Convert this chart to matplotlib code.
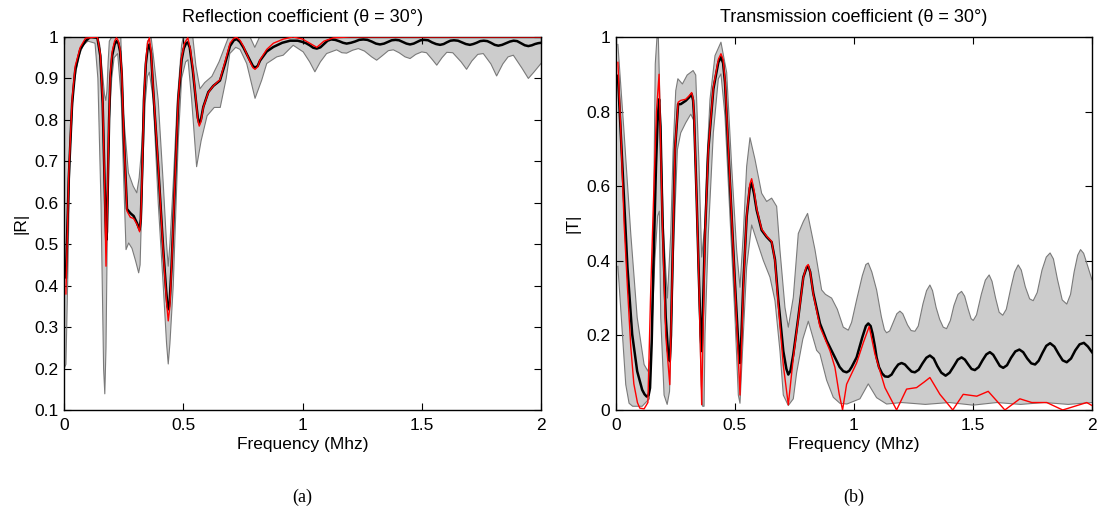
import matplotlib
matplotlib.use("Agg")
import numpy as np
from matplotlib import pyplot as plt

# ---- reflection |R| (panel a) ----
r_mean_f = [0.008, 0.02, 0.034, 0.047, 0.068, 0.09, 0.11, 0.14, 0.152, 0.162, 0.17, 0.174, 0.177, 0.18, 0.184,
            0.189, 0.194, 0.202, 0.212, 0.22, 0.228, 0.235, 0.242, 0.25, 0.264, 0.278, 0.292, 0.306, 0.317,
            0.322, 0.328, 0.335, 0.343, 0.35, 0.358, 0.365, 0.374, 0.395, 0.416, 0.428, 0.434, 0.438, 0.443,
            0.451, 0.465, 0.479, 0.493, 0.502, 0.512, 0.519, 0.527, 0.54, 0.553, 0.561, 0.567, 0.574, 0.584,
            0.605, 0.626, 0.654, 0.675, 0.696, 0.712, 0.724, 0.738, 0.752, 0.78, 0.792, 0.801, 0.812, 0.822,
            0.85, 0.878, 0.915, 0.948, 0.98, 1.0, 1.015, 1.03, 1.045, 1.06, 1.075, 1.09, 1.105, 1.12, 1.137,
            1.153, 1.17, 1.185, 1.203, 1.22, 1.238, 1.255, 1.272, 1.29, 1.308, 1.325, 1.342, 1.358, 1.374,
            1.39, 1.405, 1.42, 1.436, 1.451, 1.466, 1.48, 1.495, 1.51, 1.527, 1.543, 1.56, 1.577, 1.592,
            1.605, 1.62, 1.635, 1.652, 1.668, 1.685, 1.702, 1.716, 1.73, 1.745, 1.76, 1.775, 1.79, 1.806,
            1.821, 1.837, 1.853, 1.87, 1.885, 1.9, 1.916, 1.932, 1.947, 1.962, 1.975, 1.988, 2.0]
r_mean = [0.42, 0.66, 0.84, 0.92, 0.97, 0.99, 1.0, 0.998, 0.955, 0.84, 0.65, 0.56, 0.51, 0.53, 0.65,
          0.8, 0.9, 0.955, 0.982, 0.99, 0.985, 0.965, 0.91, 0.77, 0.585, 0.575, 0.568, 0.551, 0.535,
          0.56, 0.68, 0.847, 0.935, 0.97, 0.982, 0.96, 0.871, 0.687, 0.487, 0.39, 0.35, 0.343, 0.36,
          0.447, 0.647, 0.847, 0.944, 0.972, 0.985, 0.987, 0.975, 0.92, 0.847, 0.805, 0.791, 0.8, 0.831,
          0.867, 0.882, 0.895, 0.935, 0.978, 0.992, 0.995, 0.988, 0.975, 0.943, 0.93, 0.926, 0.93, 0.943,
          0.965, 0.976, 0.986, 0.991, 0.991, 0.988, 0.985, 0.98, 0.974, 0.972, 0.975, 0.983, 0.991, 0.994, 0.993,
          0.99, 0.986, 0.984, 0.986, 0.989, 0.993, 0.994, 0.993, 0.989, 0.984, 0.982, 0.984, 0.988, 0.992,
          0.993, 0.992, 0.988, 0.984, 0.982, 0.984, 0.988, 0.992, 0.993, 0.992, 0.987, 0.983, 0.981, 0.983,
          0.987, 0.991, 0.992, 0.991, 0.987, 0.983, 0.981, 0.983, 0.986, 0.99, 0.991, 0.99, 0.986, 0.981,
          0.979, 0.981, 0.985, 0.989, 0.991, 0.99, 0.985, 0.98, 0.978, 0.98, 0.983, 0.985, 0.986]

r_red_f = [0.008, 0.02, 0.034, 0.047, 0.068, 0.09, 0.14, 0.152, 0.162, 0.17, 0.176, 0.182, 0.187, 0.194,
           0.202, 0.212, 0.22, 0.228, 0.235, 0.242, 0.25, 0.264, 0.278, 0.292, 0.306, 0.317, 0.322, 0.328,
           0.335, 0.343, 0.35, 0.358, 0.365, 0.374, 0.395, 0.416, 0.43, 0.437, 0.444, 0.451, 0.465, 0.479,
           0.493, 0.505, 0.519, 0.53, 0.54, 0.553, 0.561, 0.567, 0.574, 0.584, 0.605, 0.626, 0.654, 0.675,
           0.696, 0.712, 0.724, 0.738, 0.752, 0.78, 0.792, 0.801, 0.812, 0.822, 0.85, 0.878, 0.92, 0.96,
           1.0, 1.03, 1.06, 1.09, 1.13, 1.2, 2.0]
r_red = [0.38, 0.67, 0.85, 0.93, 0.975, 0.997, 1.0, 0.96, 0.85, 0.65, 0.447, 0.6, 0.76, 0.91,
         0.965, 0.99, 0.998, 0.99, 0.97, 0.915, 0.77, 0.58, 0.565, 0.562, 0.548, 0.53, 0.56, 0.68,
         0.85, 0.94, 0.985, 0.998, 0.965, 0.875, 0.69, 0.48, 0.36, 0.315, 0.35, 0.445, 0.65, 0.85,
         0.95, 0.985, 0.998, 0.97, 0.925, 0.85, 0.8, 0.785, 0.795, 0.83, 0.866, 0.882, 0.897, 0.94,
         0.985, 0.997, 0.999, 0.992, 0.978, 0.94, 0.926, 0.922, 0.928, 0.945, 0.97, 0.985, 0.995, 1.0,
         0.995, 0.985, 0.975, 0.99, 0.998, 1.0, 1.0]

r_lo_f = [0.0, 0.008, 0.015, 0.025, 0.04, 0.06, 0.08, 0.1, 0.13, 0.142, 0.155, 0.166, 0.171, 0.176, 0.183,
          0.19, 0.2, 0.21, 0.225, 0.24, 0.25, 0.26, 0.271, 0.285, 0.3, 0.313, 0.319, 0.33, 0.34, 0.35, 0.358,
          0.374, 0.395, 0.416, 0.43, 0.437, 0.444, 0.458, 0.47, 0.479, 0.493, 0.51, 0.52, 0.535, 0.556, 0.575,
          0.6, 0.63, 0.655, 0.68, 0.695, 0.72, 0.738, 0.766, 0.801, 0.829, 0.85, 0.892, 0.919, 0.961, 1.003,
          1.03, 1.052, 1.075, 1.101, 1.143, 1.165, 1.185, 1.21, 1.234, 1.26, 1.29, 1.311, 1.335, 1.36, 1.381,
          1.405, 1.43, 1.451, 1.475, 1.5, 1.52, 1.545, 1.563, 1.585, 1.605, 1.63, 1.665, 1.688, 1.71, 1.735,
          1.758, 1.79, 1.814, 1.84, 1.862, 1.884, 1.92, 1.947, 1.97, 2.0]
r_lo = [0.2, 0.21, 0.4, 0.72, 0.88, 0.95, 0.98, 0.99, 0.985, 0.9, 0.6, 0.2, 0.139, 0.25, 0.6,
        0.8, 0.9, 0.95, 0.96, 0.85, 0.66, 0.487, 0.503, 0.49, 0.46, 0.431, 0.45, 0.68, 0.84, 0.905, 0.915,
        0.85, 0.6, 0.4, 0.26, 0.211, 0.26, 0.4, 0.6, 0.75, 0.9, 0.94, 0.945, 0.85, 0.687, 0.75,
        0.81, 0.83, 0.83, 0.9, 0.96, 0.975, 0.97, 0.936, 0.852, 0.896, 0.936, 0.952, 0.956, 0.98, 0.964,
        0.94, 0.916, 0.94, 0.96, 0.969, 0.962, 0.961, 0.968, 0.972, 0.966, 0.952, 0.944, 0.955, 0.967, 0.969,
        0.962, 0.952, 0.948, 0.958, 0.964, 0.962, 0.945, 0.932, 0.95, 0.963, 0.962, 0.94, 0.922, 0.942, 0.958,
        0.96, 0.935, 0.906, 0.935, 0.952, 0.956, 0.925, 0.9, 0.915, 0.936]

r_hi_f = [0.0, 0.01, 0.14, 0.15, 0.16, 0.17, 0.175, 0.18, 0.185, 0.19, 0.2, 0.238, 0.249, 0.27, 0.29,
          0.305, 0.315, 0.326, 0.34, 0.35, 0.365, 0.374, 0.395, 0.416, 0.43, 0.437, 0.444, 0.458, 0.475,
          0.493, 0.5, 0.54, 0.553, 0.57, 0.59, 0.62, 0.65, 0.67, 0.69, 0.78, 0.8, 0.82, 2.0]
r_hi = [0.99, 1.0, 1.0, 0.98, 0.92, 0.86, 0.847, 0.87, 0.94, 0.99, 1.0, 1.0, 0.816, 0.672, 0.64,
        0.624, 0.66, 0.736, 0.896, 0.99, 1.0, 0.958, 0.847, 0.647, 0.5, 0.447, 0.5, 0.647, 0.847,
        0.98, 1.0, 1.0, 0.93, 0.875, 0.89, 0.905, 0.94, 0.97, 1.0, 1.0, 0.975, 1.0, 1.0]

# ---- transmission |T| (panel b) ----
t_mean_f = [0.008, 0.027, 0.048, 0.068, 0.089, 0.11, 0.12, 0.129, 0.137, 0.143, 0.15, 0.157, 0.168, 0.175,
            0.181, 0.187, 0.195, 0.209, 0.218, 0.226, 0.231, 0.237, 0.248, 0.261, 0.272, 0.293, 0.307, 0.318,
            0.324, 0.328, 0.339, 0.349, 0.356, 0.36, 0.365, 0.374, 0.388, 0.409, 0.43, 0.441, 0.45, 0.458,
            0.479, 0.5, 0.514, 0.521, 0.527, 0.535, 0.549, 0.562, 0.57, 0.58, 0.591, 0.612, 0.633, 0.654, 0.668,
            0.682, 0.703, 0.716, 0.724, 0.733, 0.745, 0.766, 0.787, 0.8, 0.808, 0.816, 0.829, 0.857, 0.885,
            0.913, 0.94, 0.955, 0.969, 0.98, 0.99, 1.011, 1.035, 1.05, 1.06, 1.07, 1.078, 1.088, 1.095, 1.105,
            1.118, 1.13, 1.144, 1.158, 1.172, 1.186, 1.2, 1.214, 1.228, 1.242, 1.256, 1.272, 1.288, 1.304,
            1.319, 1.335, 1.35, 1.367, 1.385, 1.402, 1.42, 1.436, 1.452, 1.466, 1.48, 1.494, 1.508, 1.524,
            1.54, 1.556, 1.571, 1.585, 1.6, 1.613, 1.627, 1.643, 1.66, 1.678, 1.695, 1.711, 1.728, 1.745,
            1.761, 1.776, 1.792, 1.808, 1.824, 1.842, 1.86, 1.877, 1.894, 1.912, 1.93, 1.948, 1.966, 1.983,
            2.0]
t_mean = [0.896, 0.653, 0.383, 0.203, 0.104, 0.054, 0.042, 0.036, 0.04, 0.059, 0.18, 0.383, 0.653, 0.78,
          0.833, 0.76, 0.518, 0.248, 0.16, 0.131, 0.2, 0.383, 0.698, 0.82, 0.82, 0.829, 0.838, 0.847,
          0.83, 0.788, 0.563, 0.338, 0.2, 0.158, 0.26, 0.473, 0.698, 0.86, 0.932, 0.946, 0.93, 0.878,
          0.608, 0.338, 0.175, 0.126, 0.2, 0.338, 0.518, 0.595, 0.608, 0.58, 0.536, 0.482, 0.464, 0.45, 0.403,
          0.295, 0.158, 0.11, 0.095, 0.105, 0.149, 0.248, 0.356, 0.38, 0.385, 0.37, 0.313, 0.232, 0.186,
          0.15, 0.115, 0.104, 0.101, 0.105, 0.115, 0.141, 0.195, 0.225, 0.232, 0.225, 0.205, 0.17, 0.141, 0.115,
          0.098, 0.09, 0.089, 0.095, 0.11, 0.122, 0.126, 0.122, 0.112, 0.103, 0.101, 0.108, 0.125, 0.14,
          0.146, 0.138, 0.118, 0.1, 0.092, 0.1, 0.118, 0.135, 0.141, 0.135, 0.122, 0.11, 0.107, 0.115,
          0.133, 0.149, 0.155, 0.148, 0.132, 0.118, 0.113, 0.12, 0.14, 0.157, 0.162, 0.155, 0.138, 0.125,
          0.122, 0.132, 0.153, 0.172, 0.179, 0.17, 0.15, 0.133, 0.128, 0.138, 0.16, 0.176, 0.18, 0.17,
          0.155]

t_red_f = [0.008, 0.02, 0.034, 0.048, 0.062, 0.075, 0.09, 0.1, 0.118, 0.134, 0.145, 0.157, 0.17, 0.181,
           0.195, 0.209, 0.226, 0.237, 0.248, 0.261, 0.272, 0.293, 0.307, 0.318, 0.324, 0.328, 0.339, 0.349,
           0.36, 0.374, 0.388, 0.409, 0.43, 0.441, 0.45, 0.458, 0.479, 0.5, 0.521, 0.535, 0.549, 0.562, 0.57,
           0.58, 0.591, 0.612, 0.633, 0.654, 0.668, 0.682, 0.703, 0.724, 0.745, 0.766, 0.787, 0.8, 0.808,
           0.816, 0.829, 0.857, 0.899, 0.92, 0.938, 0.952, 0.969, 1.011, 1.039, 1.064, 1.088, 1.13, 1.179,
           1.221, 1.263, 1.295, 1.319, 1.361, 1.396, 1.415, 1.459, 1.516, 1.564, 1.634, 1.697, 1.747, 1.81,
           1.877, 1.978, 2.0]
t_red = [0.932, 0.75, 0.5, 0.33, 0.17, 0.07, 0.02, 0.005, 0.003, 0.02, 0.3, 0.55, 0.8, 0.9,
         0.5, 0.2, 0.068, 0.38, 0.7, 0.825, 0.83, 0.833, 0.842, 0.851, 0.835, 0.79, 0.56, 0.33,
         0.014, 0.47, 0.7, 0.865, 0.94, 0.955, 0.94, 0.885, 0.61, 0.33, 0.04, 0.33, 0.52, 0.605, 0.62,
         0.59, 0.54, 0.485, 0.466, 0.452, 0.4, 0.28, 0.12, 0.014, 0.14, 0.245, 0.355, 0.385, 0.39,
         0.37, 0.31, 0.223, 0.159, 0.114, 0.042, 0.0, 0.069, 0.126, 0.18, 0.224, 0.15, 0.06, 0.0,
         0.056, 0.06, 0.075, 0.087, 0.042, 0.015, 0.0, 0.042, 0.037, 0.05, 0.0, 0.03, 0.02, 0.02,
         0.0, 0.02, 0.012]

t_hi_f = [0.008, 0.034, 0.062, 0.089, 0.118, 0.134, 0.148, 0.157, 0.165, 0.172, 0.178, 0.188, 0.2, 0.216,
          0.23, 0.24, 0.251, 0.26, 0.279, 0.299, 0.324, 0.335, 0.349, 0.36, 0.374, 0.381, 0.395, 0.416,
          0.441, 0.465, 0.486, 0.507, 0.521, 0.535, 0.549, 0.563, 0.584, 0.612, 0.633, 0.654, 0.675, 0.689,
          0.71, 0.724, 0.745, 0.766, 0.787, 0.805, 0.836, 0.864, 0.88, 0.906, 0.93, 0.955, 0.976, 0.99,
          1.011, 1.035, 1.05, 1.06, 1.075, 1.095, 1.115, 1.128, 1.137, 1.15, 1.165, 1.18, 1.193, 1.205,
          1.225, 1.24, 1.256, 1.27, 1.29, 1.305, 1.319, 1.33, 1.345, 1.36, 1.375, 1.389, 1.405, 1.42,
          1.437, 1.452, 1.465, 1.48, 1.492, 1.501, 1.515, 1.535, 1.552, 1.568, 1.58, 1.595, 1.61, 1.625,
          1.64, 1.66, 1.675, 1.69, 1.703, 1.72, 1.738, 1.753, 1.77, 1.79, 1.808, 1.824, 1.838, 1.855,
          1.875, 1.894, 1.91, 1.925, 1.94, 1.952, 1.965, 1.98, 2.0]
t_hi = [0.98, 0.743, 0.473, 0.248, 0.122, 0.104, 0.149, 0.473, 0.928, 0.997, 0.997, 0.743, 0.473, 0.3,
        0.473, 0.698, 0.856, 0.888, 0.874, 0.898, 0.91, 0.898, 0.653, 0.41, 0.5, 0.653, 0.833, 0.95,
        0.986, 0.905, 0.653, 0.428, 0.329, 0.473, 0.653, 0.73, 0.672, 0.581, 0.559, 0.568, 0.546, 0.428,
        0.275, 0.222, 0.302, 0.473, 0.505, 0.527, 0.43, 0.322, 0.31, 0.3, 0.27, 0.222, 0.214, 0.235,
        0.295, 0.36, 0.39, 0.394, 0.37, 0.322, 0.25, 0.215, 0.207, 0.212, 0.235, 0.258, 0.265, 0.258,
        0.228, 0.213, 0.211, 0.225, 0.285, 0.32, 0.335, 0.32, 0.275, 0.243, 0.222, 0.218, 0.24, 0.28,
        0.31, 0.318, 0.305, 0.27, 0.245, 0.24, 0.255, 0.31, 0.348, 0.362, 0.345, 0.3, 0.262, 0.254,
        0.27, 0.33, 0.37, 0.389, 0.375, 0.33, 0.298, 0.293, 0.315, 0.375, 0.41, 0.421, 0.405, 0.35,
        0.295, 0.284, 0.31, 0.37, 0.415, 0.43, 0.42, 0.39, 0.349]

t_lo_f = [0.008, 0.027, 0.041, 0.055, 0.07, 0.11, 0.14, 0.15, 0.163, 0.175, 0.182, 0.188, 0.202, 0.215,
          0.225, 0.232, 0.244, 0.258, 0.272, 0.293, 0.314, 0.328, 0.339, 0.349, 0.358, 0.364, 0.37, 0.374,
          0.388, 0.409, 0.43, 0.441, 0.458, 0.479, 0.5, 0.514, 0.521, 0.535, 0.549, 0.57, 0.591, 0.619,
          0.647, 0.668, 0.689, 0.703, 0.724, 0.745, 0.759, 0.785, 0.808, 0.843, 0.857, 0.885, 0.913, 0.941,
          0.97, 1.025, 1.06, 1.095, 1.137, 1.2, 1.3, 1.4, 1.5, 1.6, 1.7, 1.8, 1.9, 2.0]
t_lo = [0.385, 0.203, 0.068, 0.018, 0.01, 0.01, 0.03, 0.2, 0.4, 0.52, 0.533, 0.248, 0.04, 0.015,
        0.05, 0.203, 0.473, 0.698, 0.743, 0.77, 0.793, 0.775, 0.563, 0.293, 0.068, 0.01, 0.01, 0.203,
        0.473, 0.743, 0.888, 0.901, 0.788, 0.518, 0.248, 0.04, 0.018, 0.203, 0.383, 0.496, 0.455, 0.401,
        0.356, 0.293, 0.158, 0.04, 0.012, 0.03, 0.1, 0.19, 0.238, 0.16, 0.15, 0.08, 0.034, 0.018,
        0.016, 0.03, 0.07, 0.033, 0.016, 0.02, 0.015, 0.02, 0.013, 0.02, 0.015, 0.02, 0.015, 0.02]

x_ticks = [0, 0.5, 1, 1.5, 2]
x_labels = ['0', '0.5', '1', '1.5', '2']
r_ticks = [0.1, 0.2, 0.3, 0.4, 0.5, 0.6, 0.7, 0.8, 0.9, 1.0]
r_labels = ['0.1', '0.2', '0.3', '0.4', '0.5', '0.6', '0.7', '0.8', '0.9', '1']
t_ticks = [0, 0.2, 0.4, 0.6, 0.8, 1.0]
t_labels = ['0', '0.2', '0.4', '0.6', '0.8', '1']

plt.rcParams['font.family'] = ['Liberation Sans Narrow', 'Liberation Sans', 'DejaVu Sans']


def draw_panel(ax, lo_f, lo, hi_f, hi, mean_f, mean, red_f, red):
    # grey spread band, then its outline, the mean and the reference curve
    ax.fill(np.r_[hi_f, lo_f[::-1]], np.r_[hi, lo[::-1]], facecolor='#cccccc', edgecolor='none', zorder=1)
    ax.plot(hi_f, hi, color='#7a7a7a', lw=0.8, zorder=2)
    ax.plot(lo_f, lo, color='#7a7a7a', lw=0.8, zorder=2)
    ax.plot(mean_f, mean, color='black', lw=1.8, zorder=3, solid_joinstyle='round')
    ax.plot(red_f, red, color='red', lw=1.0, zorder=4, solid_joinstyle='round')
    ax.set_xlim(0, 2)
    ax.set_xticks(x_ticks)
    ax.set_xticklabels(x_labels)
    ax.tick_params(direction='in', top=True, right=True, length=5, labelsize=12.5, pad=6)
    for s in ax.spines.values():
        s.set_linewidth(1.0)
    ax.set_xlabel('Frequency (Mhz)', fontsize=12.5, labelpad=3)


fig = plt.figure(figsize=(11, 5.15), dpi=100)
ax1 = fig.add_axes([0.0582, 0.2039, 0.4336, 0.7243])
ax2 = fig.add_axes([0.56, 0.2039, 0.4327, 0.7243])

draw_panel(ax1, r_lo_f, r_lo, r_hi_f, r_hi, r_mean_f, r_mean, r_red_f, r_red)
ax1.set_ylim(0.1, 1.0)
ax1.set_yticks(r_ticks)
ax1.set_yticklabels(r_labels)
ax1.tick_params(axis='y', pad=4)
ax1.set_ylabel('|R|', fontsize=12.5, labelpad=4)
ax1.set_title('Reflection coefficient (\u03b8 = 30\u00b0)', fontsize=13, pad=11)

draw_panel(ax2, t_lo_f, t_lo, t_hi_f, t_hi, t_mean_f, t_mean, t_red_f, t_red)
ax2.set_ylim(0, 1.0)
ax2.set_yticks(t_ticks)
ax2.set_yticklabels(t_labels)
ax2.tick_params(axis='y', pad=4)
ax2.set_ylabel('|T|', fontsize=12.5, labelpad=4)
ax2.set_title('Transmission coefficient (\u03b8 = 30\u00b0)', fontsize=13, pad=11)

fig.text(0.2752, 0.035, '(a)', ha='center', va='center', fontsize=13, family='Liberation Serif')
fig.text(0.7765, 0.035, '(b)', ha='center', va='center', fontsize=13, family='Liberation Serif')

fig.savefig('out.png', dpi=100)
